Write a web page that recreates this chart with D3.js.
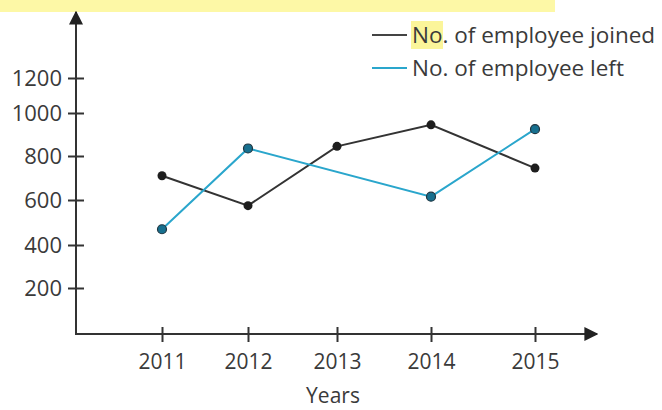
<!DOCTYPE html>
<html>
<head>
<meta charset="utf-8">
<script src="https://cdn.jsdelivr.net/npm/d3@7"></script>
<style>
  body { margin: 0; background: #fff; }
  text { font-family: "Open Sans", sans-serif; fill: #3a3a3a; }
</style>
</head>
<body>
<div id="chart"></div>
<script>
var years = [2011, 2012, 2013, 2014, 2015];
var yTicks = [200, 400, 600, 800, 1000, 1200];

// joined has a value every year, left has no 2013 point
var joinedYears = [2011, 2012, 2013, 2014, 2015];
var joined = [710, 575, 845, 945, 745];
var leftYears = [2011, 2012, 2014, 2015];
var left = [470, 835, 615, 925];

var seriesNames = ["No. of employee joined", "No. of employee left"];

var svgWidth = 662, svgHeight = 410;

var svg = d3.select("#chart").append("svg")
    .attr("width", svgWidth)
    .attr("height", svgHeight);

// the hand drawn axes are not evenly spaced, so piecewise scales
var xScale = d3.scaleLinear()
    .domain(years)
    .range([162, 248, 337, 431, 535]);

var yScale = d3.scaleLinear()
    .domain([0, 200, 400, 600, 800, 1000, 1200])
    .range([334, 288, 245, 200, 156, 113, 78]);

var x0 = 76, y0 = yScale(0);

// cut off title highlight at the top
svg.append("rect")
    .attr("x", 0).attr("y", 0)
    .attr("width", 555).attr("height", 12)
    .attr("fill", "#fdf8a6");

var defs = svg.append("defs");
defs.append("marker")
    .attr("id", "arrow")
    .attr("viewBox", "0 0 10 10")
    .attr("refX", 9).attr("refY", 5)
    .attr("markerWidth", 7).attr("markerHeight", 7)
    .attr("markerUnits", "strokeWidth")
    .attr("orient", "auto")
    .append("path")
    .attr("d", "M0,0 L10,5 L0,10 z")
    .attr("fill", "#222");

// axis lines
svg.append("line")
    .attr("x1", x0).attr("y1", y0)
    .attr("x2", x0).attr("y2", 12)
    .attr("stroke", "#333").attr("stroke-width", 2)
    .attr("marker-end", "url(#arrow)");

svg.append("line")
    .attr("x1", x0 - 1).attr("y1", y0)
    .attr("x2", 597).attr("y2", y0)
    .attr("stroke", "#333").attr("stroke-width", 2)
    .attr("marker-end", "url(#arrow)");

var yAxis = d3.axisLeft(yScale).tickValues(yTicks).tickFormat(d3.format("d")).tickSize(0).tickPadding(14);
var yG = svg.append("g")
    .attr("transform", `translate(${x0}, 0)`)
    .call(yAxis);
yG.select(".domain").remove();
yG.selectAll(".tick line")
    .attr("x1", -8).attr("x2", 8)
    .attr("stroke", "#333").attr("stroke-width", 2);
yG.selectAll(".tick text")
    .attr("font-size", "22px")
    .attr("font-family", "Open Sans, sans-serif")
    .attr("fill", "#3a3a3a");

var xAxis = d3.axisBottom(xScale).tickValues(years).tickFormat(d3.format("d")).tickSize(0).tickPadding(20);
var xG = svg.append("g")
    .attr("transform", `translate(0, ${y0})`)
    .call(xAxis);
xG.select(".domain").remove();
xG.selectAll(".tick line")
    .attr("y1", -7).attr("y2", 8)
    .attr("stroke", "#333").attr("stroke-width", 2);
xG.selectAll(".tick text")
    .attr("font-size", "21px")
    .attr("font-family", "Open Sans, sans-serif")
    .attr("fill", "#3a3a3a");

svg.append("text")
    .attr("x", 333).attr("y", 403)
    .attr("text-anchor", "middle")
    .attr("font-size", "21px")
    .text("Years");

var line = d3.line()
    .x(d => xScale(d[0]))
    .y(d => yScale(d[1]));

var joinedData = joinedYears.map((yr, i) => [yr, joined[i]]);
var leftData = leftYears.map((yr, i) => [yr, left[i]]);

svg.append("path")
    .datum(joinedData)
    .attr("d", line)
    .attr("fill", "none")
    .attr("stroke", "#333")
    .attr("stroke-width", 2);

svg.append("path")
    .datum(leftData)
    .attr("d", line)
    .attr("fill", "none")
    .attr("stroke", "#2aa6cc")
    .attr("stroke-width", 2);

svg.selectAll(".dotJ")
    .data(joinedData)
    .enter().append("circle")
    .attr("class", "dotJ")
    .attr("cx", d => xScale(d[0]))
    .attr("cy", d => yScale(d[1]))
    .attr("r", 4.5)
    .attr("fill", "#1e1e1e");

svg.selectAll(".dotL")
    .data(leftData)
    .enter().append("circle")
    .attr("class", "dotL")
    .attr("cx", d => xScale(d[0]))
    .attr("cy", d => yScale(d[1]))
    .attr("r", 4.5)
    .attr("fill", "#17708f")
    .attr("stroke", "#1f3540")
    .attr("stroke-width", 1.2);

// legend
var legend = svg.append("g");
var legendColors = ["#444", "#2aa6cc"];
var legendY = [35, 68];

// yellow highlight behind "No." of the first entry
legend.append("rect")
    .attr("x", 411).attr("y", 21)
    .attr("width", 32).attr("height", 28)
    .attr("fill", "#fbf59a");

seriesNames.forEach(function (name, i) {
    legend.append("line")
        .attr("x1", 372).attr("x2", 407)
        .attr("y1", legendY[i]).attr("y2", legendY[i])
        .attr("stroke", legendColors[i])
        .attr("stroke-width", 2);
    legend.append("text")
        .attr("x", 412)
        .attr("y", legendY[i] + 8)
        .attr("font-size", "22.5px")
        .text(name);
});
</script>
</body>
</html>
